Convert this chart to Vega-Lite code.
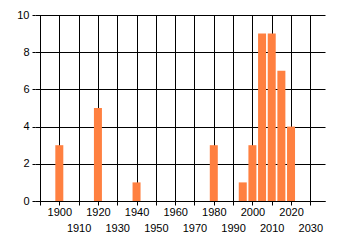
{
  "$schema": "https://vega.github.io/schema/vega-lite/v6.json",
  "width": 290,
  "height": 186,
  "autosize": {"type": "none"},
  "padding": {"left": 35, "top": 15, "right": 15, "bottom": 44},
  "background": "white",
  "config": {
    "view": {"stroke": null},
    "axis": {
      "labelFont": "Liberation Sans",
      "labelFontSize": 11,
      "labelColor": "#000000",
      "gridColor": "#000000",
      "gridOpacity": 1,
      "gridWidth": 1,
      "tickColor": "#000000",
      "domainColor": "#000000",
      "title": null
    }
  },
  "data": {
    "values": [
      {"year": 1900, "count": 3},
      {"year": 1920, "count": 5},
      {"year": 1940, "count": 1},
      {"year": 1980, "count": 3},
      {"year": 1995, "count": 1},
      {"year": 2000, "count": 3},
      {"year": 2005, "count": 9},
      {"year": 2010, "count": 9},
      {"year": 2015, "count": 7},
      {"year": 2020, "count": 4}
    ]
  },
  "mark": {"type": "bar", "size": 8, "color": "#FF8040"},
  "encoding": {
    "x": {
      "field": "year",
      "type": "quantitative",
      "scale": {"domain": [1890, 2035], "nice": false, "zero": false},
      "axis": {
        "values": [1890, 1900, 1910, 1920, 1930, 1940, 1950, 1960, 1970, 1980, 1990, 2000, 2010, 2020, 2030],
        "grid": true,
        "tickSize": 4,
        "labelPadding": 1,
        "labelOverlap": false,
        "labelFlush": false,
        "labelLineHeight": 16,
        "labelExpr": "datum.value == 1890 ? '' : (datum.value % 20 == 0 ? format(datum.value, 'd') : ['', format(datum.value, 'd')])"
      }
    },
    "y": {
      "field": "count",
      "type": "quantitative",
      "scale": {"domain": [0, 10], "nice": false},
      "axis": {
        "values": [0, 2, 4, 6, 8, 10],
        "grid": true,
        "tickSize": 3,
        "labelPadding": 3,
        "domain": false
      }
    }
  }
}
